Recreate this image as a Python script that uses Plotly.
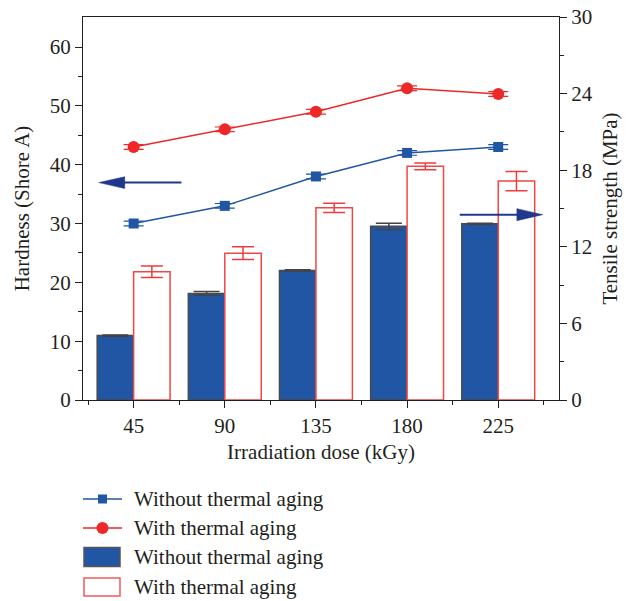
import plotly.graph_objects as go

# ---- data ----
dose = [45, 90, 135, 180, 225]
hard_without = [30.0, 33.0, 38.0, 42.0, 43.0]
hard_with = [43.0, 46.0, 49.0, 53.0, 52.0]
hard_without_err = [0.4, 0.4, 0.4, 0.4, 0.4]
hard_with_err = [0.4, 0.4, 0.4, 0.4, 0.4]
ts_without = [5.05, 8.35, 10.15, 13.6, 13.8]
ts_with = [10.05, 11.5, 15.05, 18.3, 17.15]
ts_without_err = [0.05, 0.15, 0.05, 0.25, 0.05]
ts_with_err = [0.45, 0.5, 0.37, 0.26, 0.75]
legend_labels = ["Without thermal aging", "With thermal aging",
                 "Without thermal aging", "With thermal aging"]

BLUE = "rgb(33,86,165)"
RED = "rgb(238,40,40)"
NAVY = "rgb(32,56,138)"
TXT = "#231f20"
FONT = "Liberation Serif"
FS = 21

fig = go.Figure()

fig.add_trace(go.Bar(
    x=dose, y=ts_without, yaxis="y2", width=18, offset=-18,
    marker=dict(color=BLUE, line=dict(color="#4a4a4a", width=1.5)),
    error_y=dict(type="data", array=ts_without_err, color="#444444", thickness=1.5, width=13),
    name=legend_labels[2], showlegend=False))
fig.add_trace(go.Bar(
    x=dose, y=ts_with, yaxis="y2", width=18, offset=0,
    marker=dict(color="white", line=dict(color="rgb(240,70,70)", width=1.5)),
    error_y=dict(type="data", array=ts_with_err, color="rgb(240,60,60)", thickness=1.5, width=11),
    name=legend_labels[3], showlegend=False))

fig.add_trace(go.Scatter(
    x=dose, y=hard_without, yaxis="y", mode="lines+markers",
    line=dict(color=BLUE, width=1.5),
    marker=dict(symbol="square", size=10, color=BLUE),
    error_y=dict(type="data", array=hard_without_err, color=BLUE, thickness=1.2, width=10),
    name=legend_labels[0], showlegend=False))
fig.add_trace(go.Scatter(
    x=dose, y=hard_with, yaxis="y", mode="lines+markers",
    line=dict(color=RED, width=1.5),
    marker=dict(symbol="circle", size=12, color=RED),
    error_y=dict(type="data", array=hard_with_err, color=RED, thickness=1.2, width=10),
    name=legend_labels[1], showlegend=False))

# figure fills the whole window (body margin removed in the page)
FIG_W, FIG_H = 632, 601
# plot-area pixel geometry
L, R, T, B = 83, 559, 17, 400
W, H = R - L, B - T

def px(x):
    return (x - L) / W

def py(y):
    return (B - y) / H

shapes = []
annotations = []

# direction arrows (data coordinates)
shapes.append(dict(type="line", xref="x", yref="y", x0=68.6, x1=38, y0=36.95, y1=36.95,
                   line=dict(color=NAVY, width=2)))
shapes.append(dict(type="path", xref="x", yref="y",
                   path="M 27.8 36.95 L 40.6 37.95 L 40.6 35.95 Z",
                   fillcolor=NAVY, line=dict(color=NAVY, width=0.5)))
shapes.append(dict(type="line", xref="x", yref="y2", x0=206, x1=236, y0=14.52, y1=14.52,
                   line=dict(color=NAVY, width=2)))
shapes.append(dict(type="path", xref="x", yref="y2",
                   path="M 247 14.52 L 234.2 14.99 L 234.2 14.05 Z",
                   fillcolor=NAVY, line=dict(color=NAVY, width=0.5)))

# custom legend
rows = [499, 528, 557, 587]
# row 1: blue line + square
shapes.append(dict(type="line", xref="paper", yref="paper", x0=px(83), x1=px(122),
                   y0=py(rows[0]), y1=py(rows[0]), line=dict(color=BLUE, width=1.5)))
shapes.append(dict(type="rect", xref="paper", yref="paper", x0=px(98), x1=px(107),
                   y0=py(rows[0] + 4.5), y1=py(rows[0] - 4.5), fillcolor=BLUE,
                   line=dict(color=BLUE, width=0)))
# row 2: red line + circle
shapes.append(dict(type="line", xref="paper", yref="paper", x0=px(83), x1=px(122),
                   y0=py(rows[1]), y1=py(rows[1]), line=dict(color=RED, width=1.5)))
shapes.append(dict(type="circle", xref="paper", yref="paper", x0=px(96.5), x1=px(108.5),
                   y0=py(rows[1] + 6), y1=py(rows[1] - 6), fillcolor=RED,
                   line=dict(color=RED, width=0)))
# row 3: blue box
shapes.append(dict(type="rect", xref="paper", yref="paper", x0=px(84), x1=px(120),
                   y0=py(rows[2] + 9.5), y1=py(rows[2] - 9.5), fillcolor=BLUE,
                   line=dict(color="#555555", width=1.5)))
# row 4: red outline box
shapes.append(dict(type="rect", xref="paper", yref="paper", x0=px(84), x1=px(120),
                   y0=py(rows[3] + 9), y1=py(rows[3] - 9), fillcolor="white",
                   line=dict(color="rgb(240,90,90)", width=1.5)))
for r, lab in zip(rows, legend_labels):
    annotations.append(dict(xref="paper", yref="paper", x=px(132), y=py(r),
                            xanchor="left", yanchor="middle", showarrow=False,
                            text=lab, font=dict(family=FONT, size=FS, color=TXT)))

axis_common = dict(
    showline=True, linecolor="#231f20", linewidth=1.3, ticks="outside",
    tickcolor="#231f20", ticklen=7, tickwidth=1.2, showgrid=False, zeroline=False,
    automargin=False,
    tickfont=dict(family=FONT, size=FS, color=TXT),
)

fig.update_layout(
    width=FIG_W, height=FIG_H,
    margin=dict(l=L, r=FIG_W - R, t=T, b=FIG_H - B),
    paper_bgcolor="white", plot_bgcolor="white",
    showlegend=False,
    barmode="overlay",
    font=dict(family=FONT, size=FS, color=TXT),
    xaxis=dict(
        **axis_common, range=[20, 255], tickvals=dose, ticktext=[str(d) for d in dose],
        mirror=True,
        minor=dict(tickvals=[22.5, 67.5, 112.5, 157.5, 202.5, 247.5], ticklen=4,
                   tickcolor="#231f20", ticks="outside"),
        title=dict(text="Irradiation dose (kGy)", standoff=6,
                   font=dict(family=FONT, size=FS, color=TXT)),
    ),
    yaxis=dict(
        **axis_common, range=[0, 65.1], tickvals=[0, 10, 20, 30, 40, 50, 60],
        minor=dict(tickvals=[5, 15, 25, 35, 45, 55], ticklen=4, tickcolor="#231f20",
                   ticks="outside"),
        title=dict(text="Hardness (Shore A)", standoff=14,
                   font=dict(family=FONT, size=FS, color=TXT)),
    ),
    yaxis2=dict(
        **axis_common, range=[0, 30], tickvals=[0, 6, 12, 18, 24, 30],
        overlaying="y", side="right",
        minor=dict(tickvals=[3, 9, 15, 21, 27], ticklen=4, tickcolor="#231f20",
                   ticks="outside"),
        title=dict(text="Tensile strength (MPa)", standoff=10,
                   font=dict(family=FONT, size=FS, color=TXT)),
    ),
    shapes=shapes,
    annotations=annotations,
)

fig.write_html("out.html",
               config={"displayModeBar": False},
               post_script="document.body.style.margin='0px';"
                           "document.body.style.overflow='hidden';")
